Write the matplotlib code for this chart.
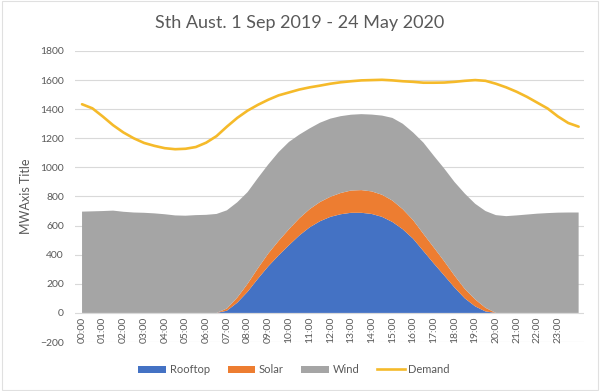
import matplotlib
matplotlib.use("Agg")
import matplotlib.pyplot as plt
from matplotlib.patches import Patch
from matplotlib.lines import Line2D

# half-hourly time points (hours)
hours = [i * 0.5 for i in range(49)]
tick_hours = list(range(24))
tick_labels = [f"{h:02d}:00" for h in tick_hours]

rooftop = [0]*14 + [15, 70, 145, 235, 320, 395, 465, 532, 588, 630, 660, 678, 688, 688,
                    680, 660, 625, 575, 510, 425, 340, 258, 175, 100, 45, 10] + [0]*9
solar = [0]*14 + [15, 35, 55, 72, 88, 100, 110, 118, 125, 132, 138, 146, 153, 156,
                  155, 152, 147, 138, 128, 118, 110, 98, 82, 65, 48, 25] + [0]*9
wind = [696, 698, 700, 703, 695, 690, 688, 684, 678, 670, 668, 672, 674, 680,
        675, 655, 630, 620, 612, 610, 600, 575, 555, 545, 537, 528, 521, 522,
        528, 544, 568, 587, 602, 627, 630, 637, 643, 655, 657, 665,
        672, 665, 670, 676, 682, 686, 689, 690, 690]
demand = [1434, 1406, 1350, 1290, 1240, 1200, 1168, 1148, 1132, 1125, 1128, 1140,
          1170, 1215, 1280, 1340, 1390, 1430, 1465, 1495, 1515, 1535, 1550, 1562,
          1575, 1585, 1592, 1598, 1600, 1602, 1598, 1592, 1588, 1582, 1582, 1583,
          1588, 1595, 1600, 1595, 1575, 1550, 1520, 1485, 1445, 1405, 1350, 1305, 1280]

series_names = ["Rooftop", "Solar", "Wind", "Demand"]
colors = ["#4472C4", "#ED7D31", "#A5A5A5", "#F5BA2A"]
text_color = "#595959"

plt.rcParams['font.family'] = ['Lato', 'DejaVu Sans']

fig = plt.figure(figsize=(6, 3.91), dpi=100)
fig.patch.set_facecolor("white")
ax = fig.add_axes([0.125, 0.1253, 0.848, 0.7443])

ax.stackplot(hours, rooftop, solar, wind, colors=colors[:3], linewidth=0, zorder=2)
ax.plot(hours, demand, color=colors[3], linewidth=1.9, zorder=3, solid_capstyle='round')

ax.set_ylim(-200, 1800)
ax.set_xlim(-0.34, 24.25)
ax.set_yticks(range(-200, 1801, 200))
ax.yaxis.grid(True, color="#D9D9D9", linewidth=0.8, zorder=0)
ax.set_axisbelow(True)
for s in ax.spines.values():
    s.set_visible(False)
ax.spines['bottom'].set_position(('data', 0))
ax.set_xticks(tick_hours)
ax.set_xticklabels(tick_labels, rotation=90, fontsize=7.5, color=text_color)
ax.tick_params(axis='both', length=0)
ax.tick_params(axis='x', pad=3)
ax.tick_params(axis='y', labelsize=7.5, labelcolor=text_color, pad=8)

ax.set_ylabel("MWAxis Title", fontsize=9, color=text_color, labelpad=6)
fig.text(0.5, 0.94, "Sth Aust. 1 Sep 2019 - 24 May 2020", ha='center', va='center',
         fontsize=13, color=text_color)

handles = [Patch(facecolor=colors[0], edgecolor='none'),
           Patch(facecolor=colors[1], edgecolor='none'),
           Patch(facecolor=colors[2], edgecolor='none'),
           Line2D([0], [0], color=colors[3], linewidth=1.9)]
fig.legend(handles, series_names, loc='center', bbox_to_anchor=(0.49, 0.055), ncol=4,
           frameon=False, fontsize=8, labelcolor=text_color, handlelength=2.5,
           handleheight=0.6, handletextpad=0.3, columnspacing=1.6)

border = plt.Rectangle((0.003, 0.003), 0.994, 0.994, transform=fig.transFigure,
                       fill=False, edgecolor="#E0E0E0", linewidth=0.8)
fig.patches.append(border)

fig.savefig("out.png", dpi=100)
